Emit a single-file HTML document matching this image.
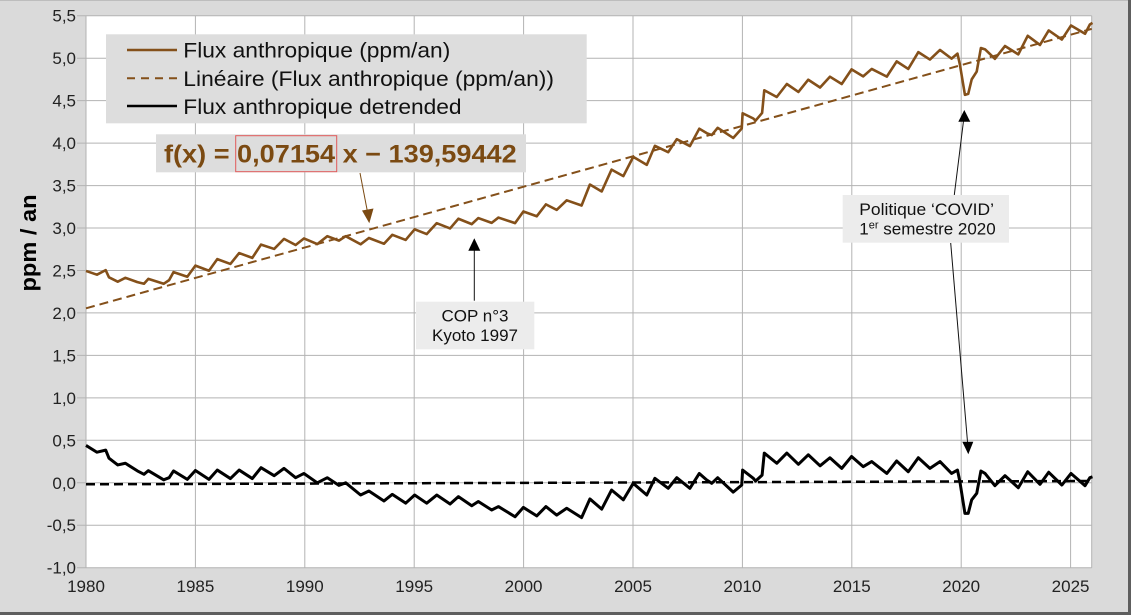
<!DOCTYPE html>
<html>
<head>
<meta charset="utf-8">
<style>
  html, body { margin:0; padding:0; }
  body { width:1131px; height:615px; overflow:hidden; background:#dadada; }
  svg { display:block; }
  text { font-family: "Liberation Sans", "DejaVu Sans", sans-serif; }
</style>
</head>
<body>
<svg width="1131" height="615" viewBox="0 0 1131 615" xmlns="http://www.w3.org/2000/svg">
  <!-- outer frame -->
  <rect x="0" y="0" width="1131" height="615" fill="#dadada"/>
  <line x1="0" y1="0.5" x2="1131" y2="0.5" stroke="#bdbdbd" stroke-width="1"/>
  <rect x="1128" y="0" width="3" height="615" fill="#5e5e5e"/>
  <rect x="0" y="612" width="1131" height="3" fill="#5e5e5e"/>

  <!-- plot area -->
  <rect x="86" y="15.7" width="1005.7" height="552" fill="#ffffff"/>

  <!-- horizontal gridlines -->
  <g stroke="#b3b3b3" stroke-width="1">
    <line x1="77" y1="567.7" x2="1091.7" y2="567.7"/>
    <line x1="77" y1="525.2" x2="1091.7" y2="525.2"/>
    <line x1="77" y1="482.8" x2="1091.7" y2="482.8"/>
    <line x1="77" y1="440.3" x2="1091.7" y2="440.3"/>
    <line x1="77" y1="397.9" x2="1091.7" y2="397.9"/>
    <line x1="77" y1="355.4" x2="1091.7" y2="355.4"/>
    <line x1="77" y1="312.9" x2="1091.7" y2="312.9"/>
    <line x1="77" y1="270.5" x2="1091.7" y2="270.5"/>
    <line x1="77" y1="228.0" x2="1091.7" y2="228.0"/>
    <line x1="77" y1="185.6" x2="1091.7" y2="185.6"/>
    <line x1="77" y1="143.1" x2="1091.7" y2="143.1"/>
    <line x1="77" y1="100.6" x2="1091.7" y2="100.6"/>
    <line x1="77" y1="58.2" x2="1091.7" y2="58.2"/>
    <line x1="77" y1="15.7" x2="1091.7" y2="15.7"/>
  </g>
  <!-- vertical gridlines -->
  <g stroke="#b3b3b3" stroke-width="1">
    <line x1="86" y1="15.7" x2="86" y2="567.7"/>
    <line x1="195.4" y1="15.7" x2="195.4" y2="567.7"/>
    <line x1="304.8" y1="15.7" x2="304.8" y2="567.7"/>
    <line x1="414.2" y1="15.7" x2="414.2" y2="567.7"/>
    <line x1="523.6" y1="15.7" x2="523.6" y2="567.7"/>
    <line x1="633" y1="15.7" x2="633" y2="567.7"/>
    <line x1="742.4" y1="15.7" x2="742.4" y2="567.7"/>
    <line x1="851.8" y1="15.7" x2="851.8" y2="567.7"/>
    <line x1="961.2" y1="15.7" x2="961.2" y2="567.7"/>
    <line x1="1070.6" y1="15.7" x2="1070.6" y2="567.7"/>
    <line x1="1091.7" y1="15.7" x2="1091.7" y2="567.7"/>
  </g>

  <!-- y tick labels -->
  <g font-size="17" fill="#222" text-anchor="end">
    <text x="76" y="573.7">-1,0</text>
    <text x="76" y="531.2">-0,5</text>
    <text x="76" y="488.8">0,0</text>
    <text x="76" y="446.3">0,5</text>
    <text x="76" y="403.9">1,0</text>
    <text x="76" y="361.4">1,5</text>
    <text x="76" y="318.9">2,0</text>
    <text x="76" y="276.5">2,5</text>
    <text x="76" y="234.0">3,0</text>
    <text x="76" y="191.6">3,5</text>
    <text x="76" y="149.1">4,0</text>
    <text x="76" y="106.6">4,5</text>
    <text x="76" y="64.2">5,0</text>
    <text x="76" y="21.7">5,5</text>
  </g>
  <!-- x tick labels -->
  <g font-size="17" fill="#222" text-anchor="middle">
    <text x="86" y="592">1980</text>
    <text x="195.4" y="592">1985</text>
    <text x="304.8" y="592">1990</text>
    <text x="414.2" y="592">1995</text>
    <text x="523.6" y="592">2000</text>
    <text x="633" y="592">2005</text>
    <text x="742.4" y="592">2010</text>
    <text x="851.8" y="592">2015</text>
    <text x="961.2" y="592">2020</text>
    <text x="1070.6" y="592">2025</text>
  </g>

  <!-- y axis title -->
  <text x="0" y="0" font-size="22" font-weight="bold" fill="#000" text-anchor="middle" textLength="97" lengthAdjust="spacingAndGlyphs" transform="translate(36 243) rotate(-90)">ppm / an</text>

  <!-- trend lines -->
  <line x1="86" y1="308.3" x2="1091.7" y2="28.85" stroke="#84501a" stroke-width="2" stroke-dasharray="9 5"/>
  <line x1="86" y1="484.3" x2="1091.7" y2="481" stroke="#000" stroke-width="2.5" stroke-dasharray="9 5"/>

  <!-- brown series: detrended values + linear trend (via skew transform) -->
  <g transform="matrix(21.88 -6.0752 0 -84.92 86 308.31)">
    <polyline fill="none" stroke="#84501a" stroke-width="2.6" stroke-linejoin="round" vector-effect="non-scaling-stroke"
      points="0,0.44 0.5,0.36 0.9,0.385 1.05,0.29 1.45,0.21 1.8,0.23 2.35,0.14 2.65,0.10 2.85,0.143 3.55,0.035 3.8,0.06 4.0,0.14 4.63,0.04 5.0,0.145 5.62,0.04 6.0,0.15 6.6,0.05 7.0,0.15 7.6,0.05 8.0,0.178 8.6,0.084 9.05,0.17 9.58,0.06 9.96,0.11 10.57,0.0 11.03,0.06 11.56,-0.03 11.87,0.0 12.55,-0.144 12.93,-0.097 13.62,-0.214 14.0,-0.136 14.61,-0.24 15.02,-0.144 15.57,-0.24 16.03,-0.144 16.64,-0.25 17.02,-0.163 17.63,-0.27 17.93,-0.22 18.54,-0.32 18.85,-0.28 19.61,-0.40 19.99,-0.29 20.6,-0.39 21.02,-0.28 21.51,-0.38 21.97,-0.30 22.65,-0.41 23.03,-0.19 23.57,-0.31 24.02,-0.085 24.56,-0.20 25.01,-0.006 25.63,-0.144 26.0,0.053 26.61,-0.065 27.0,0.06 27.6,-0.065 28.03,0.11 28.37,0.033 28.6,-0.006 28.87,0.06 29.58,-0.11 29.97,-0.026 30.01,0.15 30.5,0.053 30.6,0.02 30.9,0.09 31.0,0.35 31.57,0.23 32.03,0.35 32.56,0.218 33.01,0.33 33.55,0.20 34.0,0.295 34.54,0.17 34.99,0.31 35.52,0.19 35.91,0.25 36.6,0.11 37.05,0.257 37.58,0.13 38.04,0.295 38.57,0.17 39.03,0.25 39.56,0.11 39.83,0.15 39.94,0.013 40.17,-0.36 40.32,-0.36 40.48,-0.20 40.71,-0.124 40.9,0.139 41.09,0.11 41.54,-0.034 42.0,0.084 42.61,-0.058 43.04,0.13 43.6,-0.018 44.0,0.124 44.6,-0.026 45.02,0.11 45.66,-0.034 45.88,0.06 46.0,0.07"/>
  </g>

  <!-- black detrended series -->
  <g transform="matrix(21.88 0 0 -84.92 86 482.8)">
    <polyline fill="none" stroke="#000" stroke-width="3" stroke-linejoin="round" vector-effect="non-scaling-stroke"
      points="0,0.44 0.5,0.36 0.9,0.385 1.05,0.29 1.45,0.21 1.8,0.23 2.35,0.14 2.65,0.10 2.85,0.143 3.55,0.035 3.8,0.06 4.0,0.14 4.63,0.04 5.0,0.145 5.62,0.04 6.0,0.15 6.6,0.05 7.0,0.15 7.6,0.05 8.0,0.178 8.6,0.084 9.05,0.17 9.58,0.06 9.96,0.11 10.57,0.0 11.03,0.06 11.56,-0.03 11.87,0.0 12.55,-0.144 12.93,-0.097 13.62,-0.214 14.0,-0.136 14.61,-0.24 15.02,-0.144 15.57,-0.24 16.03,-0.144 16.64,-0.25 17.02,-0.163 17.63,-0.27 17.93,-0.22 18.54,-0.32 18.85,-0.28 19.61,-0.40 19.99,-0.29 20.6,-0.39 21.02,-0.28 21.51,-0.38 21.97,-0.30 22.65,-0.41 23.03,-0.19 23.57,-0.31 24.02,-0.085 24.56,-0.20 25.01,-0.006 25.63,-0.144 26.0,0.053 26.61,-0.065 27.0,0.06 27.6,-0.065 28.03,0.11 28.37,0.033 28.6,-0.006 28.87,0.06 29.58,-0.11 29.97,-0.026 30.01,0.15 30.5,0.053 30.6,0.02 30.9,0.09 31.0,0.35 31.57,0.23 32.03,0.35 32.56,0.218 33.01,0.33 33.55,0.20 34.0,0.295 34.54,0.17 34.99,0.31 35.52,0.19 35.91,0.25 36.6,0.11 37.05,0.257 37.58,0.13 38.04,0.295 38.57,0.17 39.03,0.25 39.56,0.11 39.83,0.15 39.94,0.013 40.17,-0.36 40.32,-0.36 40.48,-0.20 40.71,-0.124 40.9,0.139 41.09,0.11 41.54,-0.034 42.0,0.084 42.61,-0.058 43.04,0.13 43.6,-0.018 44.0,0.124 44.6,-0.026 45.02,0.11 45.66,-0.034 45.88,0.06 46.0,0.07"/>
  </g>

  <!-- legend -->
  <rect x="106" y="34.3" width="480.7" height="89" fill="#dddddd"/>
  <line x1="127" y1="50" x2="177" y2="50" stroke="#84501a" stroke-width="2.5"/>
  <line x1="127" y1="78.3" x2="177" y2="78.3" stroke="#84501a" stroke-width="2" stroke-dasharray="8 6"/>
  <line x1="127" y1="106" x2="177" y2="106" stroke="#000" stroke-width="2.5"/>
  <g font-size="21" fill="#111">
    <text x="183.3" y="57.3" textLength="267" lengthAdjust="spacingAndGlyphs">Flux anthropique (ppm/an)</text>
    <text x="183.3" y="85.8" textLength="370.7" lengthAdjust="spacingAndGlyphs">Linéaire (Flux anthropique (ppm/an))</text>
    <text x="183.3" y="114" textLength="278.3" lengthAdjust="spacingAndGlyphs">Flux anthropique detrended</text>
  </g>

  <!-- formula box -->
  <rect x="156" y="134.3" width="370" height="38" fill="#dddddd"/>
  <text x="164" y="162.3" font-size="25" font-weight="bold" fill="#7b4a12" textLength="352.7" lengthAdjust="spacingAndGlyphs">f(x) = 0,07154 x − 139,59442</text>
  <rect x="235.7" y="135.7" width="101" height="36" fill="none" stroke="#e05a5a" stroke-width="1"/>
  <!-- formula arrow -->
  <line x1="360" y1="173" x2="367.5" y2="212" stroke="#7b4a12" stroke-width="1"/>
  <polygon points="369.3,223.3 362,210.5 373.5,208.5" fill="#7b4a12"/>

  <!-- COP annotation -->
  <rect x="416" y="301.7" width="118.3" height="47.6" fill="#ececec"/>
  <g font-size="17" fill="#111" text-anchor="middle">
    <text x="475" y="321.5">COP n°3</text>
    <text x="475" y="341">Kyoto 1997</text>
  </g>
  <line x1="474.3" y1="300.7" x2="474.3" y2="250" stroke="#111" stroke-width="1"/>
  <polygon points="474.3,238.3 468.3,250.7 480.3,250.7" fill="#000"/>

  <!-- COVID annotation -->
  <rect x="842.7" y="195" width="166.3" height="47.7" fill="#ececec"/>
  <g font-size="17" fill="#111">
    <text x="859.3" y="215" textLength="134.7" lengthAdjust="spacingAndGlyphs">Politique ‘COVID’</text>
    <text x="859.3" y="234.3">1<tspan font-size="11" dy="-6">er</tspan><tspan dy="6"> semestre 2020</tspan></text>
  </g>
  <line x1="954.3" y1="195" x2="963.5" y2="121" stroke="#111" stroke-width="1"/>
  <polygon points="964.3,110 958.3,121.7 970.3,121.7" fill="#000"/>
  <line x1="950.7" y1="243" x2="967.6" y2="443" stroke="#111" stroke-width="1"/>
  <polygon points="968.3,454.3 962.3,441.7 973.3,441.7" fill="#000"/>
</svg>
</body>
</html>
